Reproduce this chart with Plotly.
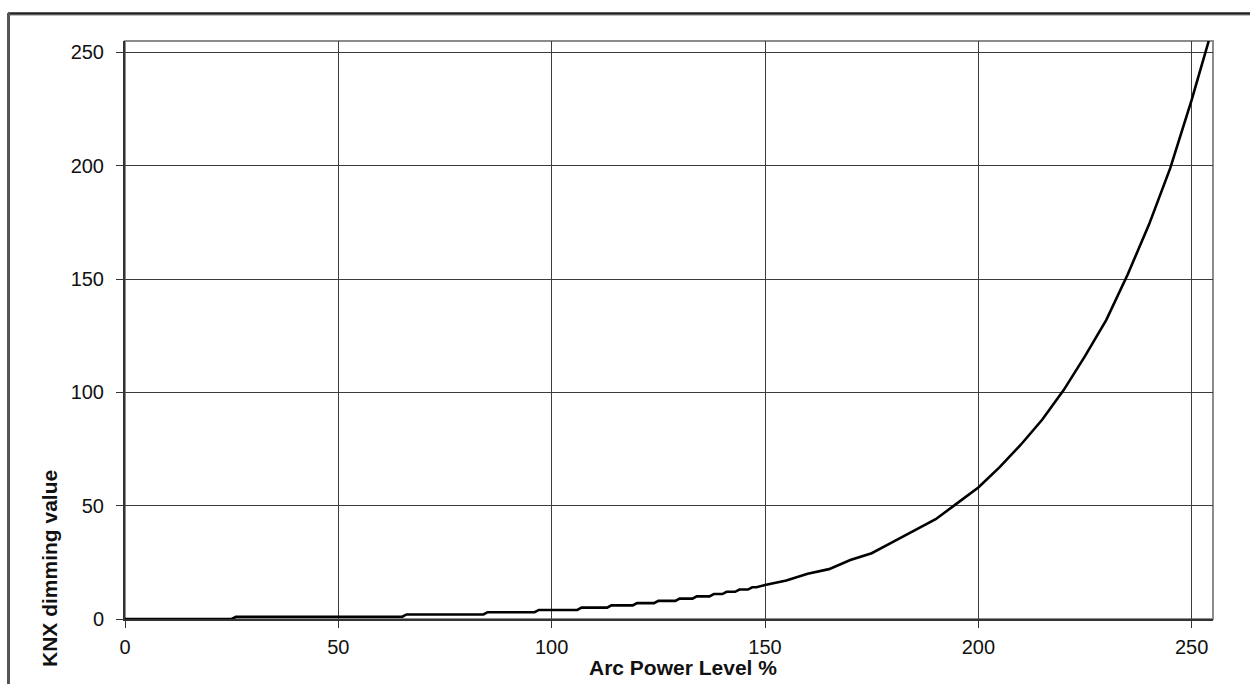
import plotly.graph_objects as go

# values (staircase at the low end)
arc_level = [0, 25, 26, 65, 66, 84, 85, 96, 97, 106,
             107, 113, 114, 119, 120, 124, 125, 129, 130, 133,
             134, 137, 138, 140, 141, 143, 144, 146, 147, 148,
             150, 155, 160, 165, 170, 175, 180, 185, 190, 195,
             200, 205, 210, 215, 220, 225, 230, 235, 240, 245,
             250, 254]
knx_value = [0, 0, 1, 1, 2, 2, 3, 3, 4, 4,
             5, 5, 6, 6, 7, 7, 8, 8, 9, 9,
             10, 10, 11, 11, 12, 12, 13, 13, 14, 14,
             15, 17, 20, 22, 26, 29, 34, 39, 44, 51,
             58, 67, 77, 88, 101, 116, 132, 152, 174, 199,
             229, 255]
tick_vals = [0, 50, 100, 150, 200, 250]

x_title = "Arc Power Level %"
y_title = "KNX dimming value"

W, H = 1250, 684
L, R, T, B = 125, 37, 41, 65


def px_x(px):
    return (px - L) / (W - L - R)


def px_y(py):
    return (H - B - py) / (H - T - B)


fig = go.Figure()
fig.add_trace(go.Scatter(x=arc_level, y=knx_value, mode="lines",
                         line=dict(color="#000000", width=2.6),
                         showlegend=False))

axis_common = dict(
    tickvals=tick_vals, showgrid=True, gridcolor="#3c3c3c", gridwidth=1,
    showline=True, linecolor="#333333", linewidth=2,
    ticks="outside", ticklen=7, tickcolor="#333333", tickwidth=1,
    zeroline=False, fixedrange=True,
    tickfont=dict(family="Liberation Sans, Arial", size=20, color="#111111"),
)
fig.update_xaxes(range=[0, 255], ticklabelstandoff=2, **axis_common)
fig.update_yaxes(range=[0, 255], ticklabelstandoff=8, **axis_common)

shapes = [
    # grey plot-area border (top/right visible)
    dict(type="rect", xref="paper", yref="paper", x0=0, x1=1, y0=0, y1=1,
         line=dict(color="#8c8c8c", width=2), layer="below"),
    # outer frame
    dict(type="line", xref="paper", yref="paper",
         x0=px_x(8), x1=px_x(1250), y0=px_y(13.5), y1=px_y(13.5),
         line=dict(color="#222222", width=2.5)),
    dict(type="line", xref="paper", yref="paper",
         x0=px_x(8), x1=px_x(1250), y0=px_y(15.5), y1=px_y(15.5),
         line=dict(color="#c0c0c0", width=1)),
    dict(type="line", xref="paper", yref="paper",
         x0=px_x(8.5), x1=px_x(8.5), y0=px_y(13), y1=px_y(684),
         line=dict(color="#555555", width=3)),
]

annotations = [
    dict(text=x_title, xref="paper", yref="paper",
         x=px_x(683), y=px_y(667), xanchor="center", yanchor="middle",
         showarrow=False,
         font=dict(family="Liberation Sans, Arial", size=21, color="#111111",
                   weight="bold")),
    dict(text=y_title, xref="paper", yref="paper", textangle=-90,
         x=px_x(49), y=px_y(569), xanchor="center", yanchor="middle",
         showarrow=False,
         font=dict(family="Liberation Sans, Arial", size=21, color="#111111",
                   weight="bold")),
]

fig.update_layout(
    width=W, height=H,
    margin=dict(l=L, r=R, t=T, b=B),
    paper_bgcolor="#ffffff", plot_bgcolor="#ffffff",
    shapes=shapes, annotations=annotations,
    showlegend=False,
)

# page body margin would shift the figure by 8px
fig.write_html("out.html", config={"displayModeBar": False},
               post_script="document.body.style.margin='0px';")
